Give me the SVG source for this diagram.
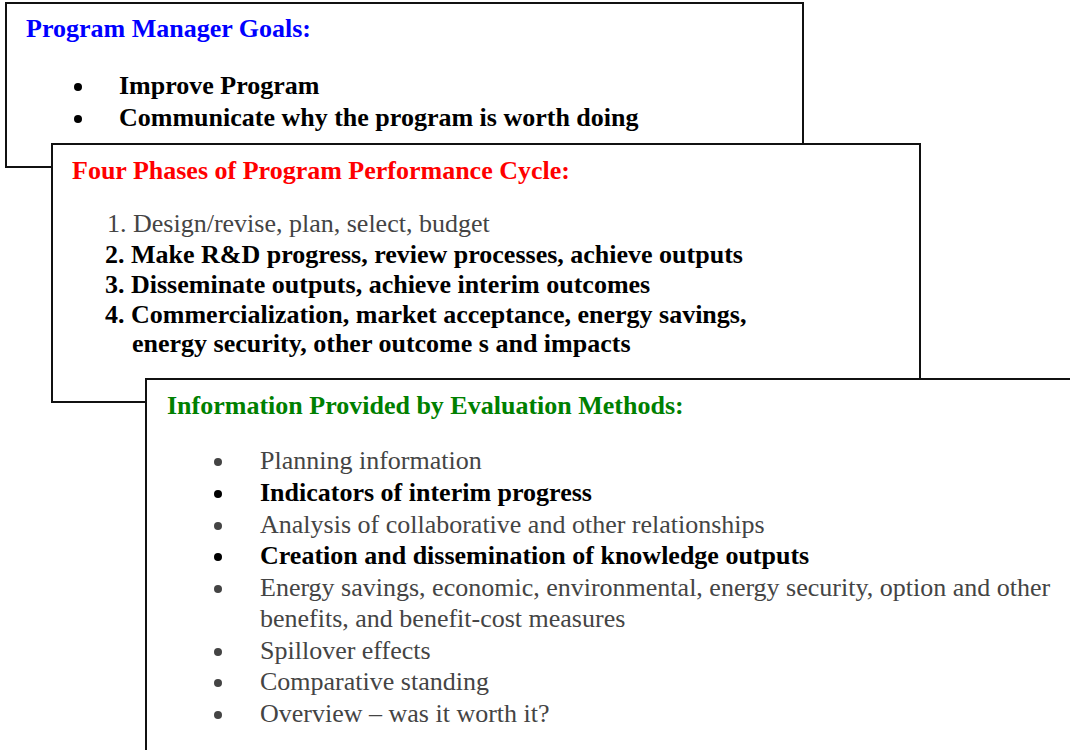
<svg xmlns="http://www.w3.org/2000/svg" width="1070" height="750" viewBox="0 0 1070 750">
<style>
  .box { fill: #ffffff; stroke: #111111; stroke-width: 2; }
  text { font-family: "Liberation Serif", "Times New Roman", serif; font-size: 26px; }
  .b { font-weight: bold; fill: #000000; }
  .g { fill: #444444; }
  .blue { fill: #0000ff; font-weight: bold; }
  .red { fill: #ff0000; font-weight: bold; }
  .green { fill: #008000; font-weight: bold; }
  .kb { fill: #000000; }
  .kg { fill: #444444; }
</style>
<defs>
  <circle id="bullet" cx="0" cy="0" r="4"/>
</defs>
<rect width="1070" height="750" fill="#ffffff"/>
<g id="goals">
  <rect class="box" x="6" y="3" width="797" height="164"/>
  <text class="blue" x="26" y="37">Program Manager Goals:</text>
  <use href="#bullet" class="kb" x="78" y="87"/>
  <text class="b" x="119" y="94">Improve Program</text>
  <use href="#bullet" class="kb" x="78" y="119"/>
  <text class="b" x="119" y="126">Communicate why the program is worth doing</text>
</g>
<g id="phases">
  <rect class="box" x="52" y="144" width="868" height="258"/>
  <text class="red" x="72" y="179">Four Phases of Program Performance Cycle:</text>
  <text class="g" x="107" y="232">1. Design/revise, plan, select, budget</text>
  <text class="b" x="105" y="263">2. Make R&amp;D progress, review processes, achieve outputs</text>
  <text class="b" x="105" y="293">3. Disseminate outputs, achieve interim outcomes</text>
  <text class="b" x="105" y="323">4. Commercialization, market acceptance, energy savings,</text>
  <text class="b" x="132" y="352">energy security, other outcome s and impacts</text>
</g>
<g id="evaluation">
  <rect class="box" x="146" y="379" width="940" height="400"/>
  <text class="green" x="167" y="414">Information Provided by Evaluation Methods:</text>
  <use href="#bullet" class="kg" x="218" y="462"/>
  <text class="g" x="260" y="469">Planning information</text>
  <use href="#bullet" class="kb" x="218" y="494"/>
  <text class="b" x="260" y="501">Indicators of interim progress</text>
  <use href="#bullet" class="kg" x="218" y="526"/>
  <text class="g" x="260" y="533">Analysis of collaborative and other relationships</text>
  <use href="#bullet" class="kb" x="218" y="557"/>
  <text class="b" x="260" y="564">Creation and dissemination of knowledge outputs</text>
  <use href="#bullet" class="kg" x="218" y="589"/>
  <text class="g" x="260" y="596">Energy savings, economic, environmental, energy security, option and other</text>
  <text class="g" x="260" y="627">benefits, and benefit-cost measures</text>
  <use href="#bullet" class="kg" x="218" y="652"/>
  <text class="g" x="260" y="659">Spillover effects</text>
  <use href="#bullet" class="kg" x="218" y="683"/>
  <text class="g" x="260" y="690">Comparative standing</text>
  <use href="#bullet" class="kg" x="218" y="715"/>
  <text class="g" x="260" y="722">Overview – was it worth it?</text>
</g>
<g id="connectors"></g>
</svg>
